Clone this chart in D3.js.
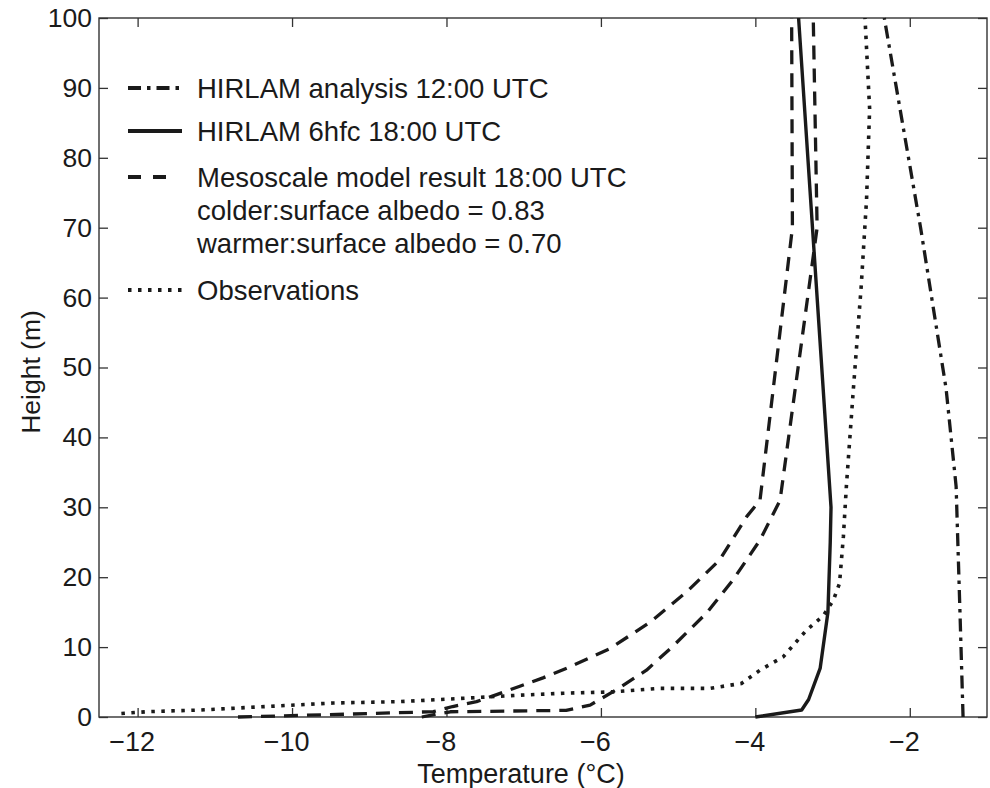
<!DOCTYPE html>
<html>
<head>
<meta charset="utf-8">
<script src="https://cdn.jsdelivr.net/npm/d3@7"></script>
<style>
  body { margin: 0; background: #fff; }
  svg { font-family: "Liberation Sans", Arial, sans-serif; }
</style>
</head>
<body>
<script>
// temperature profiles, height (m) vs temperature (°C)
var analysisH = [0, 15, 33, 47, 70, 100];
var analysisT = [-1.31, -1.35, -1.40, -1.53, -1.86, -2.33];

var forecastH = [0, 1, 2.5, 7, 15, 25, 30, 100];
var forecastT = [-4.0, -3.40, -3.31, -3.16, -3.06, -3.03, -3.02, -3.44];

var colderH = [0, 0.4, 0.76, 1.5, 2.2, 3.2, 4.4, 5.6, 7, 9.8, 13.6, 17.9, 22.5, 28.7, 31, 70, 100];
var colderT = [-10.7, -9.3, -8.17, -7.92, -7.61, -7.35, -7.05, -6.75, -6.44, -5.88, -5.36, -4.89, -4.46, -4.11, -3.94, -3.52, -3.53];

var warmerH = [0, 0.75, 0.95, 1.7, 3.9, 6.7, 10.1, 14.9, 19.6, 25.3, 31, 70, 100];
var warmerT = [-8.32, -7.95, -6.45, -6.14, -5.80, -5.41, -5.07, -4.63, -4.29, -3.94, -3.68, -3.20, -3.25];

var obsH = [0.5, 0.76, 1.0, 1.5, 2.0, 2.2, 2.7, 3.1, 3.4, 3.6, 4.1, 4.1, 4.8, 6.7, 8.6, 12.4, 14.5, 16.7, 19.1, 25.8, 33.2, 47, 61.5, 74, 87, 100];
var obsT = [-12.21, -11.88, -11.19, -10.33, -9.47, -8.6, -7.74, -7.09, -6.49, -5.84, -5.24, -4.59, -4.18, -3.94, -3.64, -3.34, -3.12, -2.99, -2.91, -2.86, -2.82, -2.73, -2.63, -2.56, -2.52, -2.58];

var xTicks = [-12, -10, -8, -6, -4, -2];
var yTicks = [0, 10, 20, 30, 40, 50, 60, 70, 80, 90, 100];

var legendLabels = ['HIRLAM analysis 12:00 UTC', 'HIRLAM 6hfc 18:00 UTC', 'Mesoscale model result 18:00 UTC', 'Observations'];
var legendExtra = ['colder:surface albedo = 0.83', 'warmer:surface albedo = 0.70'];

var width = 990, height = 788;
var margin = {top: 18, right: 3, bottom: 71, left: 99};
var ink = '#1a1a1a';

var svg = d3.select('body').append('svg')
    .attr('width', width)
    .attr('height', height);

var x = d3.scaleLinear().domain([-12.5, -1]).range([margin.left, width - margin.right]);
var y = d3.scaleLinear().domain([0, 100]).range([height - margin.bottom, margin.top]);

// dash styles
var styles = {
  dashdot: {dash: '13,6,3.5,6', w: 3.3},
  solid: {dash: null, w: 3.4},
  dashed: {dash: '14,9', w: 3.3},
  dotted: {dash: '3.5,6.5', w: 3.6}
};

// axes with inward ticks on all four sides
var xAxisG = svg.append('g')
   .attr('transform', 'translate(0,' + (height - margin.bottom) + ')')
   .call(d3.axisBottom(x).tickValues(xTicks).tickSize(-9).tickPadding(15));
svg.append('g')
   .attr('transform', 'translate(0,' + margin.top + ')')
   .call(d3.axisTop(x).tickValues(xTicks).tickSize(-9).tickFormat(''));
var yAxisG = svg.append('g')
   .attr('transform', 'translate(' + margin.left + ',0)')
   .call(d3.axisLeft(y).tickValues(yTicks).tickSize(-9).tickPadding(7));
svg.append('g')
   .attr('transform', 'translate(' + (width - margin.right) + ',0)')
   .call(d3.axisRight(y).tickValues(yTicks).tickSize(-9).tickFormat(''));

svg.selectAll('.domain').remove();
svg.selectAll('.tick line').attr('stroke', '#333').attr('stroke-width', 1.3);
yAxisG.selectAll('.tick text')
   .attr('fill', ink)
   .style('font-size', '26.5px');
xAxisG.selectAll('.tick text')
   .attr('fill', ink)
   .style('font-size', '27px')
   .attr('dx', -6)
   .attr('dy', '0.72em');

// plot box
svg.append('rect')
   .attr('x', margin.left)
   .attr('y', margin.top)
   .attr('width', width - margin.left - margin.right)
   .attr('height', height - margin.top - margin.bottom)
   .attr('fill', 'none')
   .attr('stroke', '#333')
   .attr('stroke-width', 1.4);

// curves
var line = d3.line()
    .x(function(d) { return x(d[1]); })
    .y(function(d) { return y(d[0]); });

var series = [
  {h: analysisH, t: analysisT, s: styles.dashdot},
  {h: forecastH, t: forecastT, s: styles.solid},
  {h: colderH, t: colderT, s: styles.dashed},
  {h: warmerH, t: warmerT, s: styles.dashed},
  {h: obsH, t: obsT, s: styles.dotted}
];

svg.append('g')
   .selectAll('path')
   .data(series)
   .enter()
   .append('path')
   .attr('d', function(d) { return line(d3.zip(d.h, d.t)); })
   .attr('fill', 'none')
   .attr('stroke', ink)
   .attr('stroke-width', function(d) { return d.s.w; })
   .attr('stroke-dasharray', function(d) { return d.s.dash; })
   .attr('stroke-linejoin', 'round');

// legend
var legendRows = [
  {label: legendLabels[0], s: styles.dashdot, y: 88},
  {label: legendLabels[1], s: styles.solid, y: 131},
  {label: legendLabels[2], s: styles.dashed, y: 177},
  {label: legendLabels[3], s: styles.dotted, y: 290}
];

var leg = svg.append('g');
leg.selectAll('line')
   .data(legendRows)
   .enter()
   .append('line')
   .attr('x1', 128)
   .attr('x2', function(d) { return d.s === styles.dashed ? 166 : 182; })
   .attr('y1', function(d) { return d.y; })
   .attr('y2', function(d) { return d.y; })
   .attr('stroke', ink)
   .attr('stroke-width', function(d) { return d.s.w + 0.6; })
   .attr('stroke-dasharray', function(d) { return d.s === styles.dashed ? '13,12' : d.s.dash; });

leg.selectAll('text.lab')
   .data(legendRows)
   .enter()
   .append('text')
   .attr('class', 'lab')
   .attr('x', 197)
   .attr('y', function(d) { return d.y + 10; })
   .attr('fill', ink)
   .style('font-size', '27.5px')
   .text(function(d) { return d.label; });

leg.selectAll('text.extra')
   .data(legendExtra)
   .enter()
   .append('text')
   .attr('class', 'extra')
   .attr('x', 197)
   .attr('y', function(d, i) { return 220 + i * 33; })
   .attr('fill', ink)
   .style('font-size', '27.5px')
   .text(function(d) { return d; });

// axis titles
svg.append('text')
   .attr('x', 521)
   .attr('y', 783)
   .attr('text-anchor', 'middle')
   .attr('fill', ink)
   .style('font-size', '27px')
   .text('Temperature (°C)');

svg.append('text')
   .attr('transform', 'translate(40,' + 372 + ') rotate(-90)')
   .attr('text-anchor', 'middle')
   .attr('fill', ink)
   .style('font-size', '26.5px')
   .text('Height (m)');
</script>
</body>
</html>
